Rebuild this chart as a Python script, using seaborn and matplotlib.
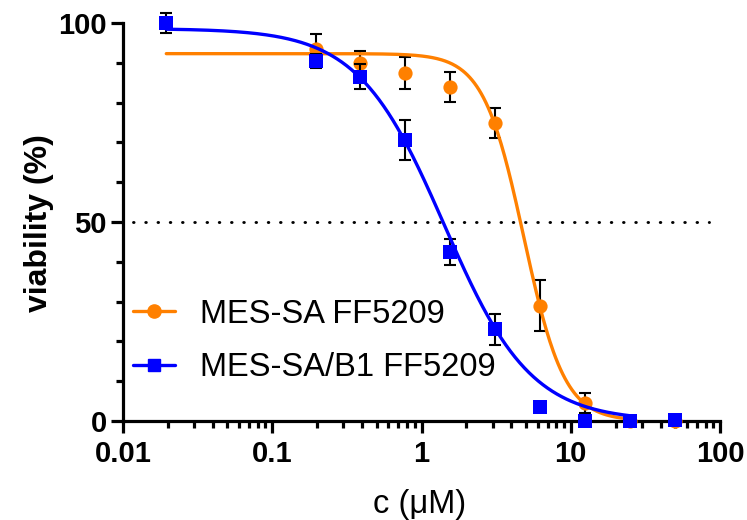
import numpy as np
import pandas as pd
import matplotlib
matplotlib.use("Agg")
import matplotlib.pyplot as plt
from matplotlib.lines import Line2D
from matplotlib.ticker import LogLocator, NullFormatter, FixedLocator
import seaborn as sns

# ---------------- data ----------------
series_names = ["MES-SA FF5209", "MES-SA/B1 FF5209"]
colors = ["#FF8000", "#0000FF"]

conc_orange = [0.195, 0.39, 0.78, 1.5625, 3.125, 6.25, 12.5, 25, 50]
via_orange = [93.5, 90.0, 87.5, 84.0, 74.8, 29.0, 4.5, 0.0, 0.0]
err_orange = [3.8, 3.0, 4.0, 3.8, 3.8, 6.5, 2.5, 0.0, 0.0]

conc_blue = [0.0195, 0.195, 0.39, 0.78, 1.5625, 3.125, 6.25, 12.5, 25, 50]
via_blue = [100.0, 90.5, 86.5, 70.6, 42.5, 23.0, 3.5, 0.0, 0.0, 0.3]
err_blue = [2.5, 1.8, 3.2, 5.0, 3.3, 4.0, 0.0, 0.0, 0.0, 0.0]

# fitted dose-response curve parameters (top, bottom, IC50, Hill slope)
fit_top = [92.3, 98.6]
fit_bottom = [0.0, 0.0]
fit_ic50 = [4.85, 1.42]
fit_hill = [3.2, 1.5]
fit_range = [(0.0195, 25.0), (0.0195, 25.0)]

xticks = [0.01, 0.1, 1, 10, 100]
xtick_labels = ["0.01", "0.1", "1", "10", "100"]
yticks = [0, 50, 100]
ref_level = 50

# ---------------- figure ----------------
sns.set_theme(style="ticks", rc={"text.color": "black", "axes.labelcolor": "black",
                                 "xtick.color": "black", "ytick.color": "black",
                                 "axes.edgecolor": "black"})
plt.rcParams["font.family"] = ["Liberation Sans", "DejaVu Sans"]

W, H = 747, 520
fig = plt.figure(figsize=(W / 100, H / 100), dpi=100)
ax = fig.add_axes([123 / W, 1 - 421 / H, (720 - 123) / W, (421 - 23) / H])

ax.set_xscale("log")
ax.set_xlim(0.01, 100)
ax.set_ylim(0, 100)

# 50% reference line
ax.plot([0.0117, 85], [ref_level, ref_level], color="black", lw=2.1, ls=(0, (0.2, 4.0)),
        dash_capstyle="round", zorder=1, clip_on=False)

datasets = [(conc_orange, via_orange, err_orange), (conc_blue, via_blue, err_blue)]
markers = ["o", "s"]
msizes = [105, 90]

for i, name in enumerate(series_names):
    lo, hi = fit_range[i]
    xs = np.logspace(np.log10(lo), np.log10(hi), 400)
    ys = fit_bottom[i] + (fit_top[i] - fit_bottom[i]) / (1 + (xs / fit_ic50[i]) ** fit_hill[i])
    curve = pd.DataFrame({"c": xs, "v": ys})
    sns.lineplot(data=curve, x="c", y="v", color=colors[i], lw=2.4, ax=ax,
                 zorder=3 + 2 * i, clip_on=False)

    cx, vy, ev = datasets[i]
    ax.errorbar(cx, vy, yerr=ev, fmt="none", ecolor="black", elinewidth=1.5,
                capsize=4, capthick=1.5, zorder=2 + 2 * i, clip_on=False)
    pts = pd.DataFrame({"c": cx, "v": vy})
    sns.scatterplot(data=pts, x="c", y="v", color=colors[i], marker=markers[i],
                    s=msizes[i], linewidth=0, ax=ax, zorder=4 + 2 * i, clip_on=False)

# axes styling
for s in ["top", "right"]:
    ax.spines[s].set_visible(False)
for s in ["left", "bottom"]:
    ax.spines[s].set_linewidth(2.3)
    ax.spines[s].set_color("black")

ax.xaxis.set_major_locator(FixedLocator(xticks))
ax.set_xticklabels(xtick_labels)
ax.xaxis.set_minor_locator(LogLocator(base=10, subs=np.arange(2, 10), numticks=20))
ax.xaxis.set_minor_formatter(NullFormatter())
ax.set_yticks(yticks)
ax.set_yticks(np.arange(10, 100, 10), minor=True)

ax.tick_params(axis="both", which="major", direction="out", length=8.5, width=2.3,
               color="black", labelsize=21, labelcolor="black")
ax.tick_params(axis="x", which="major", pad=5)
ax.tick_params(axis="y", which="major", pad=3)
ax.tick_params(axis="both", which="minor", direction="out", length=5, width=2.3, color="black")
for lab in ax.get_xticklabels() + ax.get_yticklabels():
    lab.set_fontweight("bold")

ax.set_xlabel("")
ax.set_ylabel("")
fig.text(420 / W, 1 - 505 / H, "c (μM)", fontsize=23.5, ha="center", va="center",
         color="black")
fig.text(39 / W, 1 - 223 / H, "viability (%)", fontsize=23, fontweight="bold",
         rotation=90, ha="center", va="center", color="black")

handles = [Line2D([0], [0], color=colors[0], lw=2.4, marker="o", markersize=9.5),
           Line2D([0], [0], color=colors[1], lw=2.4, marker="s", markersize=9)]
leg = fig.legend(handles, series_names, loc="center left",
                 bbox_to_anchor=(133 / W, 1 - 341 / H), frameon=False, fontsize=23.5,
                 handlelength=1.28, handletextpad=0.76, labelspacing=0.68, borderpad=0,
                 borderaxespad=0)
for t in leg.get_texts():
    t.set_color("black")

fig.savefig("out.png", dpi=100)
